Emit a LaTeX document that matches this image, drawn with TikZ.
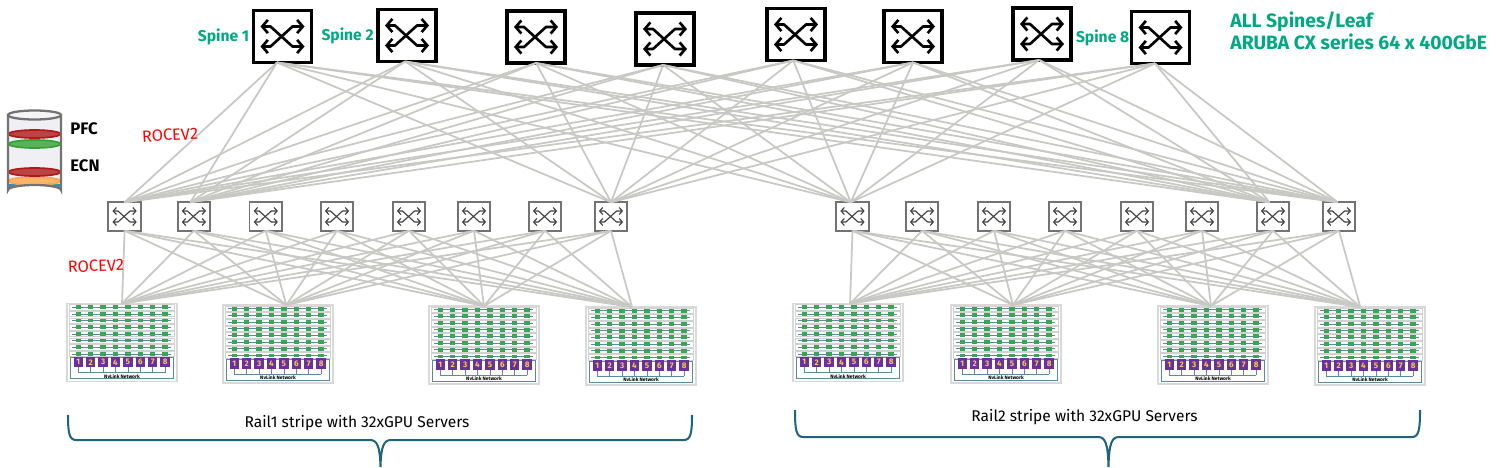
\documentclass[tikz,border=0pt]{standalone}
\usepackage{fontspec}
\setmainfont{Fira Sans}
\usetikzlibrary{arrows.meta,positioning}
\definecolor{hpegreen}{HTML}{01A982}
\definecolor{linkgray}{HTML}{C8C8C4}
\definecolor{bracecol}{HTML}{1F6478}
\definecolor{gpugreen}{HTML}{3AA655}
\definecolor{gpupurple}{HTML}{6B2FA0}
\definecolor{gpuyellow}{HTML}{F2D13C}
\definecolor{wirecol}{HTML}{5B8A9A}
\definecolor{queueblue}{HTML}{2F8FC4}
\tikzset{
    spinebox/.style={draw=black, line width=2.1pt, fill=white, inner sep=0, outer sep=0, minimum width=1.16cm, minimum height=1.04cm},
    leafbox/.style={draw=black!55, line width=1pt, fill=white, inner sep=0, outer sep=0, minimum width=.65cm, minimum height=.57cm},
    serverbox/.style={draw=black!15, line width=.7pt, fill=white, inner sep=0, outer sep=0, minimum width=2.2cm, minimum height=1.56cm},
    spineline/.style={draw=black, line width=1.5pt, line join=round, {Straight Barb[length=3.2pt,width=7.5pt]}-{Straight Barb[length=3.2pt,width=7.5pt]}},
    leafline/.style={draw=black!75, line width=.65pt, line join=round, {Straight Barb[length=1.8pt,width=4pt]}-{Straight Barb[length=1.8pt,width=4pt]}},
    linkline/.style={draw=linkgray, line width=1pt},
    spinelabel/.style={text=hpegreen, font=\fontsize{8.9}{10}\selectfont\bfseries, inner sep=0},
    rocelabel/.style={text=red, font=\fontsize{9.3}{10}\selectfont, inner sep=0},
    raillabel/.style={font=\fontsize{8.85}{10}\selectfont, inner sep=0},
    qoslabel/.style={font=\fontsize{9.5}{10}\selectfont\bfseries, inner sep=0},
    ring/.style={line width=.95pt, fill=white, fill opacity=.8},
    pics/swicon/.style={code={
        \draw[#1] (-22,-10) -- (-12,-10) -- (10,10) -- (22,10);
        \draw[#1] (-22,10) -- (-12,10) -- (10,-10) -- (22,-10);
    }},
    pics/gpuserver/.style={code={
        \foreach \r in {0,...,7} {
            \draw[black!18, line width=.25pt] (2,{.9+6.67*\r}) rectangle (107,{6.5+6.67*\r});
            \draw[wirecol, line width=.35pt] (5,{3.7+6.67*\r}) -- (104,{3.7+6.67*\r});
            \foreach \c in {0,...,7}
                \fill[gpugreen] ({8.6+12.4*\c},{1.8+6.67*\r}) rectangle ++(5.4,3.8);
        }
        \draw[wirecol, line width=.3pt] (3,54) rectangle (106,75);
        \draw[wirecol, line width=.35pt] (11.3,69) -- (98.1,69);
        \foreach \k in {1,...,8} {
            \draw[wirecol, line width=.35pt] ({11.3+12.4*(\k-1)},60) -- ({11.3+12.4*(\k-1)},69);
            \node[fill=gpupurple, text=gpuyellow, inner sep=0, minimum width=.19cm, minimum height=.21cm, font=\fontsize{4.6}{5}\selectfont\bfseries] (g\k) at ({11.3+12.4*(\k-1)},58.7) {\k};
        }
        \node[inner sep=0, font=\fontsize{2.8}{3}\selectfont\bfseries] (net) at (55,72.7) {NvLink Network};
    }},
}
\begin{document}
\begin{tikzpicture}[x=.02cm,y=-.02cm]
    \useasboundingbox (0,0) rectangle (1500,467);
    % spines
    \foreach \n/\x/\y in {1/282.5/36.5,2/407/35.5,3/536/37,4/665/39,5/796/34.5,6/913/36.5,7/1042/34,8/1160.5/37.5} {
        \node[spinebox] (s\n) at (\x,\y) {};
        \pic at (s\n) {swicon=spineline};
    }
    % leaves
    \foreach \n/\x in {1/124.6,2/193.9,3/265.8,4/337,5/409,6/474,7/545,8/611,9/852.5,10/922,11/994,12/1065,13/1137,14/1202,15/1273,16/1339} {
        \node[leafbox] (l\n) at (\x,216.5) {};
        \pic[scale=.55] at (l\n) {swicon=leafline};
    }
    % servers
    \foreach \n/\x/\y in {1/122/342.5,2/278/344,3/484/345,4/641/346,5/848/342.5,6/1006/344,7/1213/345,8/1370/346} {
        \node[serverbox] (r\n) at (\x,\y) {};
        \pic (p\n) at (r\n.north west) {gpuserver};
    }
    % spine to leaf
    \foreach \s/\a in {1/258,2/266,3/270,4/266,5/264,6/270,7/264,8/258}
        \foreach \l/\b in {1/90,2/104,8/90,9/97,15/104,16/95}
            \draw[linkline] (s\s.\a) -- (l\l.\b);
    % leaf to server
    \foreach \l in {1,...,8}
        \foreach \r/\b in {1/90,2/78,3/90,4/103}
            \draw[linkline] (l\l.south) -- (r\r.\b);
    \foreach \l in {9,...,16}
        \foreach \r/\b in {5/87,6/80,7/93,8/104}
            \draw[linkline] (l\l.south) -- (r\r.\b);
    % labels
    \node[spinelabel, left=.08cm of s1] (name1) {Spine 1};
    \node[spinelabel, left=.08cm of s2] (name2) {Spine 2};
    \node[spinelabel, left=.04cm of s8] (name8) {Spine 8};
    \node[text=hpegreen, align=left, anchor=north west, inner sep=0, font=\fontsize{11}{12.5}\selectfont\bfseries] (model) at (1230,11) {ALL Spines/Leaf\\ARUBA CX series 64 x 400GbE};
    \node[rocelabel, rotate=3] (roce1) at (170,135) {ROCEV2};
    \node[rocelabel, rotate=2] (roce2) at (96,266) {ROCEV2};
    \node[raillabel] (rail1) at (357,423) {Rail1 stripe with 32xGPU Servers};
    \node[raillabel] (rail2) at (1084.5,417) {Rail2 stripe with 32xGPU Servers};
    \node[qoslabel, anchor=west] (pfc) at (70,129) {PFC};
    \node[qoslabel, anchor=west] (ecn) at (70,166) {ECN};
    % queue
    \fill[blue!25!black!6] (8,115) -- (8,190) arc[start angle=180, end angle=360, x radius=26.5, y radius=5] -- (61,115) -- cycle;
    \fill[queueblue] (8,184) -- (8,190) arc[start angle=180, end angle=360, x radius=26.5, y radius=5] -- (61,184) -- cycle;
    \draw[ring, red!65!black!90] (34.5,134) ellipse[x radius=26, y radius=4];
    \draw[ring, green!55!black!80] (34.5,144) ellipse[x radius=26, y radius=4];
    \draw[ring, orange!70] (34.5,181) ellipse[x radius=26, y radius=4];
    \draw[ring, red!65!black!90] (34.5,172) ellipse[x radius=26, y radius=4];
    \draw[black!55, line width=1.3pt] (8,115) -- (8,190) arc[start angle=180, end angle=360, x radius=26.5, y radius=5] -- (61,115);
    \draw[black!55, line width=1.3pt, fill=black!4] (34.5,115) ellipse[x radius=26.5, y radius=4.5];
    % braces
    \draw[bracecol, line width=1.15pt] (68,415) .. controls (68,432) and (69,440) .. (76,440) -- (370,440) .. controls (377,440) and (380,446) .. (380.5,467) .. controls (381,446) and (384,440) .. (391,440) -- (684,440) .. controls (691,440) and (692,432) .. (692,415);
    \draw[bracecol, line width=1.15pt] (795,410) .. controls (795,429) and (796,437) .. (803,437) -- (1098,437) .. controls (1105,437) and (1108,443) .. (1108.5,467) .. controls (1109,443) and (1112,437) .. (1119,437) -- (1412,437) .. controls (1419,437) and (1420,429) .. (1420,410);
\end{tikzpicture}
\end{document}
